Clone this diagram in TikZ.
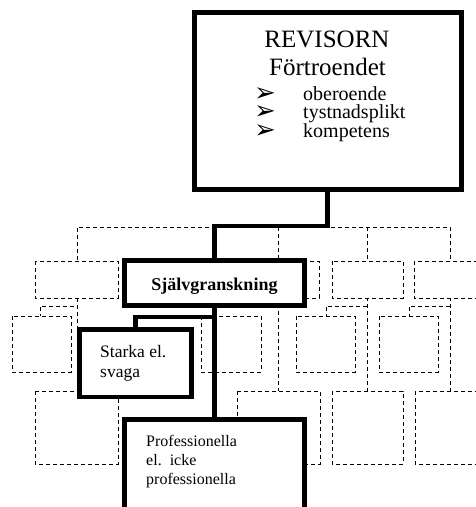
\documentclass[tikz,border=0pt]{standalone}
\usepackage{fontspec}
\setmainfont{Liberation Serif}
\newfontfamily\dingfont{DejaVu Sans}
\begin{document}
\begin{tikzpicture}[x=1pt,y=-1pt,
  wallline/.style={draw=black, line width=1pt, dash pattern=on 4pt off 3pt},
  wall/.style={wallline, fill=white},
  thickbox/.style={draw, line width=5pt, fill=white, rectangle, inner sep=0pt},
  conn/.style={line width=4.5pt},
  lbl/.style={inner sep=0pt, anchor=base west},
  bullet/.style={lbl, font=\dingfont\fontsize{26}{26}\selectfont},
]
\useasboundingbox (0,0) rectangle (476,507);
\clip (0,0) rectangle (476,507);

% --- dashed brick wall in the background ---
\draw[wallline] (77,330) -- (77,227) -- (450,227) -- (450,391);
\draw[wallline] (278,227) -- (278,391);
\draw[wallline] (367,227) -- (367,391);
\draw[wallline] (40,318) -- (40,306) -- (77,306);
\draw[wallline] (326,318) -- (326,306) -- (367,306);
\draw[wallline] (409,318) -- (409,306) -- (450,306);

% row 2
\draw[wall] (35,261) rectangle (118,298);
\draw[wall] (237,261) rectangle (319,298);
\draw[wall] (332,261) rectangle (403,298);
\draw[wall] (414,261) rectangle (500,298);
% row 3
\draw[wall] (12,316) rectangle (71,372);
\draw[wall] (201,316) rectangle (261,372);
\draw[wall] (296,316) rectangle (355,372);
\draw[wall] (379,316) rectangle (438,372);
% row 4
\draw[wall] (35,391) rectangle (118,464);
\draw[wall] (237,391) rectangle (320,464);
\draw[wall] (332,391) rectangle (403,464);
\draw[wall] (415,391) rectangle (500,464);

% --- framed boxes ---
\node[thickbox, minimum width=267pt, minimum height=176.5pt] (rev) at (327.5,100.75) {};
\node[thickbox, line width=4.5pt, minimum width=180pt, minimum height=45pt] (sj) at (214.5,283) {};
\node[thickbox, line width=4.5pt, minimum width=112pt, minimum height=67.5pt] (st) at (135.5,363.25) {};
\node[thickbox, line width=4.5pt, minimum width=180pt, minimum height=89.5pt] (pr) at (214.5,464.25) {};

% --- connectors ---
\coordinate (k1) at (300,226);
\coordinate (k2) at (214.5,317);
\draw[conn] (rev.south) |- (k1) -| (sj.north);
\draw[conn] (sj.south) -- (pr.north);
\draw[conn] (k2) -| (st.north);

% --- texts ---
\node[inner sep=0pt, anchor=base, font=\fontsize{25}{25}\selectfont] (t1) at (327,47) {REVISORN};
\node[inner sep=0pt, anchor=base, font=\fontsize{25}{25}\selectfont] (t2) at (327.5,75) {Förtroendet};
\node[bullet] (b1) at (254,101) {➢};
\node[bullet] (b2) at (254,119.5) {➢};
\node[bullet] (b3) at (254,138) {➢};
\node[lbl, font=\fontsize{20}{20}\selectfont] (i1) at (303,100) {oberoende};
\node[lbl, font=\fontsize{20}{20}\selectfont] (i2) at (303,118.5) {tystnadsplikt};
\node[lbl, font=\fontsize{20}{20}\selectfont] (i3) at (303,137) {kompetens};

\node[inner sep=0pt, anchor=base, font=\bfseries\fontsize{18}{18}\selectfont] (sjt) at (214.5,290) {Självgranskning};

\node[lbl, font=\fontsize{17.5}{17.5}\selectfont] (st1) at (100,357) {Starka el.};
\node[lbl, font=\fontsize{17.5}{17.5}\selectfont] (st2) at (100,377) {svaga};

\node[lbl, font=\fontsize{16}{16}\selectfont] (p1) at (146,446) {Professionella};
\node[lbl, font=\fontsize{16}{16}\selectfont] (p2) at (146,465) {el.\ \ icke};
\node[lbl, font=\fontsize{16}{16}\selectfont] (p3) at (146,484) {professionella};
\end{tikzpicture}
\end{document}
